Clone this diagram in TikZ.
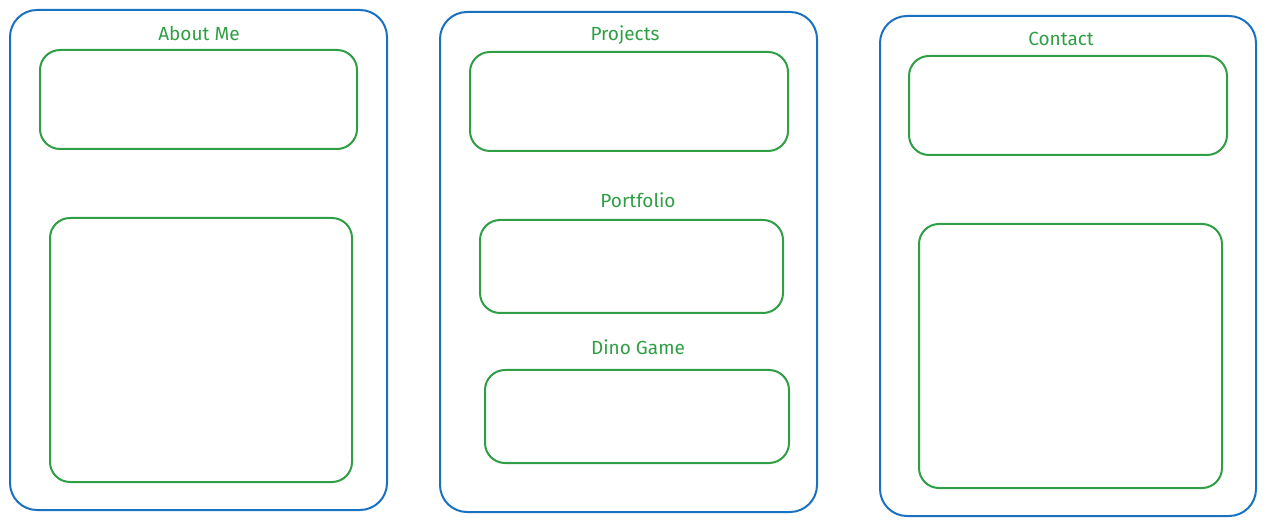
\documentclass[tikz,border=0pt]{standalone}
\usepackage{fontspec}
\setmainfont{Fira Sans}
\usepackage{xcolor}
\usepackage{tikz}
\usetikzlibrary{positioning}
\definecolor{FrameBlue}{HTML}{1971C2}
\definecolor{PanelGreen}{HTML}{2F9E44}
\tikzset{
  frame/.style={draw=FrameBlue, line width=2pt, rounded corners=27pt},
  panel/.style={draw=PanelGreen, line width=2pt, rounded corners=20pt},
  heading/.style={color=PanelGreen, font=\fontsize{19}{22}\selectfont},
}
\begin{document}
\begin{tikzpicture}[x=1pt, y=-1pt]
  \useasboundingbox (0,0) rectangle (1266,526);

  % About Me column
  \draw[frame] (10,10) rectangle (387,510);
  \node[heading] (about) at (199,33) {About Me};
  \draw[panel] (40,50) rectangle (357,149);
  \draw[panel] (50,218) rectangle (352,482);

  % Projects column
  \draw[frame] (440,12) rectangle (817,512);
  \node[heading] (projects) at (625,35) {Projects};
  \draw[panel] (470,52) rectangle (788,151);
  \node[heading] (portfolio) at (638,200) {Portfolio};
  \draw[panel] (480,220) rectangle (783,313);
  \node[heading] (dino) at (638,347) {Dino Game};
  \draw[panel] (485,370) rectangle (789,463);

  % Contact column
  \draw[frame] (880,16) rectangle (1256,516);
  \node[heading] (contact) at (1061,39) {Contact};
  \draw[panel] (909,56) rectangle (1227,155);
  \draw[panel] (919,224) rectangle (1222,488);
\end{tikzpicture}
\end{document}
